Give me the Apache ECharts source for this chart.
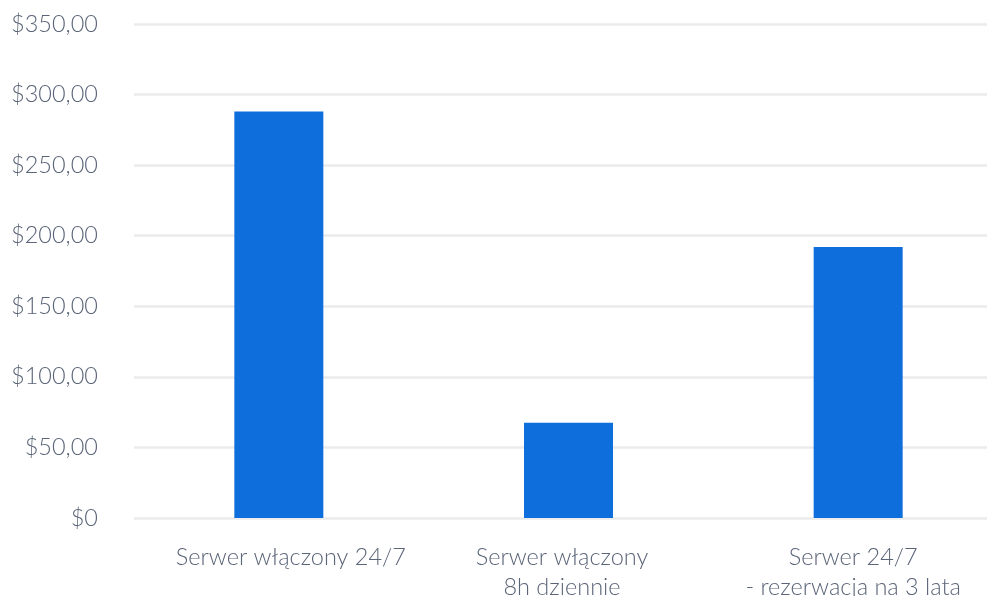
<!DOCTYPE html>
<html><head><meta charset="utf-8">
<script src="https://cdn.jsdelivr.net/npm/echarts@6/dist/echarts.min.js"></script>
<style>html,body{margin:0;padding:0;background:#fff;overflow:hidden}#c{width:987px;height:596px}</style>
</head><body><div id="c"></div>
<script>
const categories = ['Serwer włączony 24/7', 'Serwer włączony\n8h dziennie', 'Serwer 24/7\n- rezerwacja na 3 lata'];
const costs = [288, 67.5, 192];
const yTickValues = [0, 50, 100, 150, 200, 250, 300, 350];
const yTickLabels = ['$0', '$50,00', '$100,00', '$150,00', '$200,00', '$250,00', '$300,00', '$350,00'];

// label nudges (style only)
const labelPads = [[0, 0, 0, 24], [0, 13, 0, 0], [0, 10, 0, 0]];

const chart = echarts.init(document.getElementById('c'), null, {renderer: 'canvas'});
chart.setOption({
  animation: false,
  backgroundColor: '#ffffff',
  grid: {left: 134, right: -16, top: 24, bottom: 78, containLabel: false, outerBoundsMode: 'none'},
  xAxis: {
    type: 'category',
    data: categories.map((c, i) => ({value: c, textStyle: {padding: labelPads[i]}})),
    axisLine: {show: false},
    axisTick: {show: false},
    axisLabel: {
      interval: 0, hideOverlap: false,
      margin: 24, color: '#5b6578', fontFamily: 'Lato', fontWeight: 300,
      fontSize: 23.5, lineHeight: 30
    }
  },
  yAxis: {
    type: 'value', min: 0, max: 350, interval: 50,
    axisLine: {show: false}, axisTick: {show: false},
    splitLine: {lineStyle: {color: '#ebebeb', width: 2.5}},
    axisLabel: {
      margin: 36, color: '#5b6578', fontFamily: 'Lato', fontWeight: 300, fontSize: 23.5,
      formatter: v => yTickLabels[yTickValues.indexOf(v)]
    }
  },
  series: [{
    type: 'bar', data: costs, barWidth: 89,
    itemStyle: {color: '#0e6edb'}
  }]
});
</script></body></html>
